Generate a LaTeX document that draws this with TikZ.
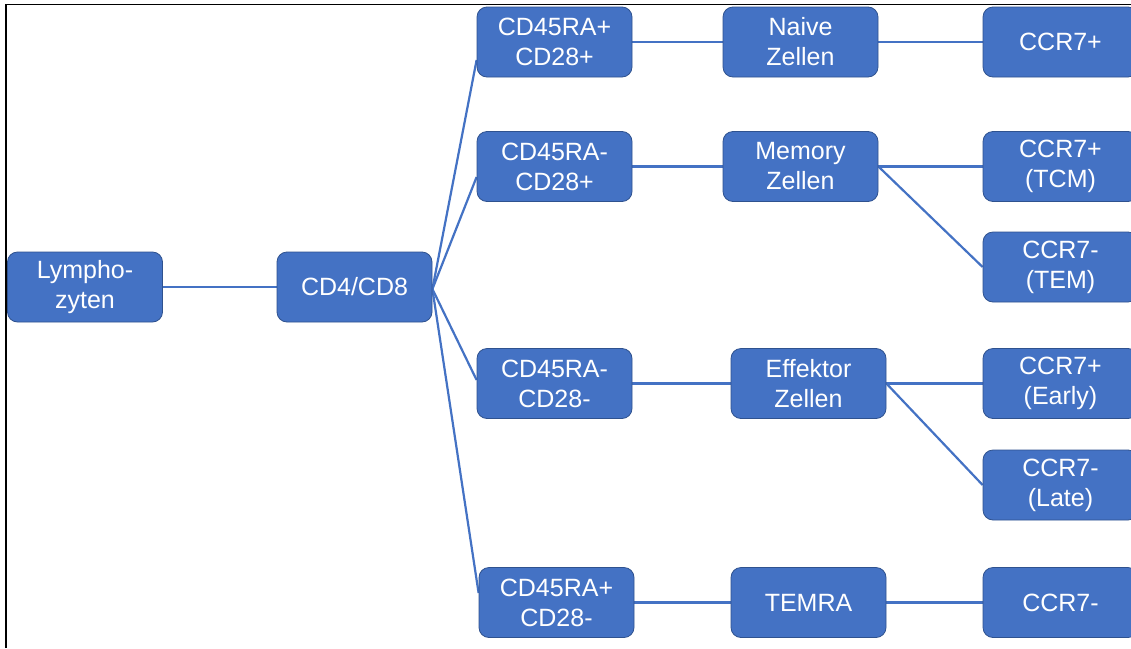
\documentclass[tikz,border=0pt]{standalone}
\usepackage{fontspec}
\setmainfont{Liberation Sans}
\usetikzlibrary{backgrounds}
\definecolor{boxblue}{HTML}{4472C4}
\definecolor{boxedge}{HTML}{2F528F}
\begin{document}
\begin{tikzpicture}[x=1pt,y=-1pt,
  box/.style={draw=boxedge, line width=0.8pt, fill=boxblue, rounded corners=10pt,
    minimum width=155pt, minimum height=70pt, text=white,
    font=\fontsize{25}{30}\selectfont, align=center, inner sep=0pt},
  link/.style={draw=boxblue, line width=2.2pt},
  frameline/.style={draw=black, line width=1.8pt}]
\clip (0,0) rectangle (1131,648);
% nodes
\node[box] (lym) at (85,287) {Lympho-\\zyten};
\node[box] (cd) at (354.5,287) {CD4/CD8};
\node[box] (a1) at (554.5,42) {CD45RA+\\CD28+};
\node[box] (a2) at (554.5,166.5) {CD45RA-\\CD28+};
\node[box] (a3) at (554.5,383.5) {CD45RA-\\CD28-};
\node[box] (a4) at (556.5,602.5) {CD45RA+\\CD28-};
\node[box] (n1) at (800.5,42) {Naive\\Zellen};
\node[box] (n2) at (800.5,166.5) {Memory\\Zellen};
\node[box] (n3) at (808.5,383.5) {Effektor\\Zellen};
\node[box] (n4) at (808.5,602.5) {TEMRA};
\node[box] (c1) at (1060.5,42) {CCR7+};
\node[box] (c2) at (1060.5,166.5) {CCR7+\\(TCM)};
\node[box] (c3) at (1060.5,267) {CCR7-\\(TEM)};
\node[box] (c4) at (1060.5,383.5) {CCR7+\\(Early)};
\node[box] (c5) at (1060.5,485) {CCR7-\\(Late)};
\node[box] (c6) at (1060.5,602.5) {CCR7-};
\begin{scope}[on background layer]
\fill[white] (0,0) rectangle (1131,648);
\draw[frameline] (6.3,648) -- (6.3,4.5) -- (1131,4.5);
\draw[link] (lym.east) -- (cd.west);
\draw[link] ([yshift=-2pt]cd.east) -- ([yshift=-18pt]a1.west);
\draw[link] ([yshift=-2pt]cd.east) -- ([yshift=-10.5pt]a2.west);
\draw[link] ([yshift=-2pt]cd.east) -- ([yshift=3.5pt]a3.west);
\draw[link] ([yshift=-2pt]cd.east) -- ([yshift=9.5pt]a4.west);
\draw[link] (a1.east) -- (n1.west);
\draw[link] (a2.east) -- (n2.west);
\draw[link] (a3.east) -- (n3.west);
\draw[link] (a4.east) -- (n4.west);
\draw[link] (n1.east) -- (c1.west);
\draw[link] (n2.east) -- (c2.west);
\draw[link] (n2.east) -- (c3.west);
\draw[link] (n3.east) -- (c4.west);
\draw[link] (n3.east) -- (c5.west);
\draw[link] (n4.east) -- (c6.west);
\end{scope}
\end{tikzpicture}
\end{document}
